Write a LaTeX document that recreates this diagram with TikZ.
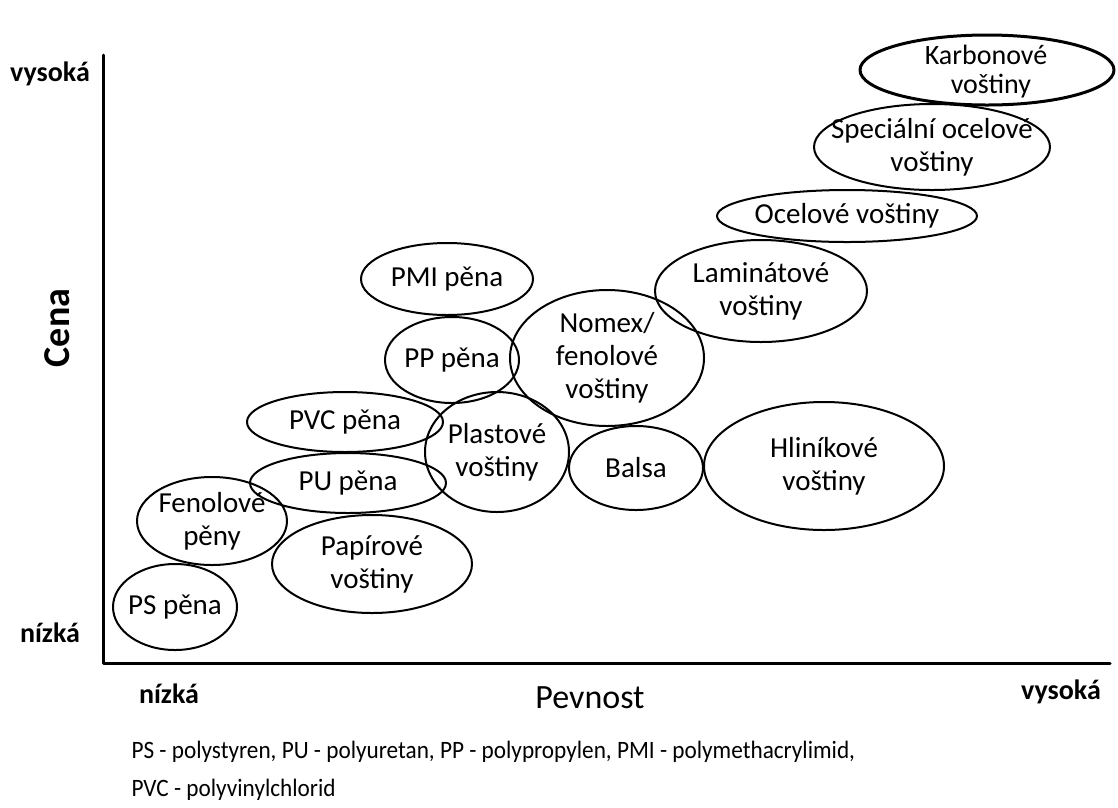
\documentclass[tikz,border=0pt]{standalone}
\usepackage{fontspec}
\setmainfont{Carlito}
\newfontfamily\narrowfont[FakeStretch=0.93]{Carlito}
\usetikzlibrary{shapes.geometric,positioning}

\begin{document}
\begin{tikzpicture}[x=1pt, y=-1pt, line cap=round, line join=round,
    blob/.style={ellipse, draw, line width=2pt, inner sep=0pt},
    txt/.style={align=center, inner sep=0pt, font=\fontsize{29}{33}\selectfont},
    tick/.style={font=\bfseries\fontsize{28}{32}\selectfont},
    axlabel/.style={font=\fontsize{34}{38}\selectfont}]
    \useasboundingbox (0,0) rectangle (1118,807);
    % axes
    \coordinate (top) at (103,55);
    \coordinate (O) at (103,663);
    \coordinate (right) at (1110,663);
    \draw [line width=3pt] (top)--(O)--(right);
    \node [tick] (ytop) at (50,74) {vysoká};
    \node [tick] (ybot) at (50,633) {nízká};
    \node [tick] (xleft) at (169,694) {nízká};
    \node [tick] (xright) at (1061,692) {vysoká};
    \node [font=\bfseries\fontsize{38}{42}\selectfont, rotate=90] (cena) at (57,328) {Cena};
    \node [axlabel] (pevnost) at (590,698) {Pevnost};

    % materials
    \node [blob, line width=3pt, minimum width=254pt, minimum height=70pt,
      label={[txt, font=\fontsize{28}{29}\selectfont, xshift=-1pt, yshift=-2pt]center:Karbonové\\\hspace*{0.35em}voštiny}] (karbon) at (987,70) {};
    \node [blob, minimum width=236pt, minimum height=86pt,
      label={[txt]center:Speciální ocelové\\voštiny}] (specocel) at (932,147) {};
    \node [blob, minimum width=260pt, minimum height=52pt,
      label={[txt]center:Ocelové voštiny}] (ocel) at (847,216) {};
    \node [blob, minimum width=212pt, minimum height=102pt,
      label={[txt]center:Laminátové\\voštiny}] (lamin) at (761,291) {};
    \node [blob, minimum width=194pt, minimum height=136pt,
      label={[txt]center:Nomex/\\fenolové\\voštiny}] (nomex) at (607,358) {};
    \node [blob, minimum width=172pt, minimum height=72pt,
      label={[txt]center:PMI pěna}] (pmi) at (447,279) {};
    \node [blob, minimum width=134pt, minimum height=86pt,
      label={[txt]center:PP pěna}] (pp) at (452,360) {};
    \node [blob, minimum width=196pt, minimum height=60pt,
      label={[txt]center:PVC pěna}] (pvc) at (345,422) {};
    \node [blob, minimum width=196pt, minimum height=60pt,
      label={[txt]center:PU pěna}] (pu) at (348,483) {};
    \node [blob, minimum width=144pt, minimum height=120pt,
      label={[txt]center:Plastové\\voštiny}] (plast) at (497,452) {};
    \node [blob, minimum width=134pt, minimum height=84pt,
      label={[txt]center:Balsa}] (balsa) at (636,468) {};
    \node [blob, minimum width=240pt, minimum height=128pt,
      label={[txt]center:Hliníkové\\voštiny}] (hlinik) at (824,466) {};
    \node [blob, minimum width=150pt, minimum height=88pt,
      label={[txt]center:Fenolové\\pěny}] (fenol) at (212,521) {};
    \node [blob, minimum width=200pt, minimum height=98pt,
      label={[txt]center:Papírové\\voštiny}] (papir) at (372,564) {};
    \node [blob, minimum width=124pt, minimum height=86pt,
      label={[txt]center:PS pěna}] (ps) at (175,607) {};

    % legend
    \node [anchor=west, align=left, font=\narrowfont\fontsize{25}{38}\selectfont] (legend) at (128,771)
      {PS - polystyren, PU - polyuretan, PP - polypropylen, PMI - polymethacrylimid,\\PVC - polyvinylchlorid};
\end{tikzpicture}
\end{document}
